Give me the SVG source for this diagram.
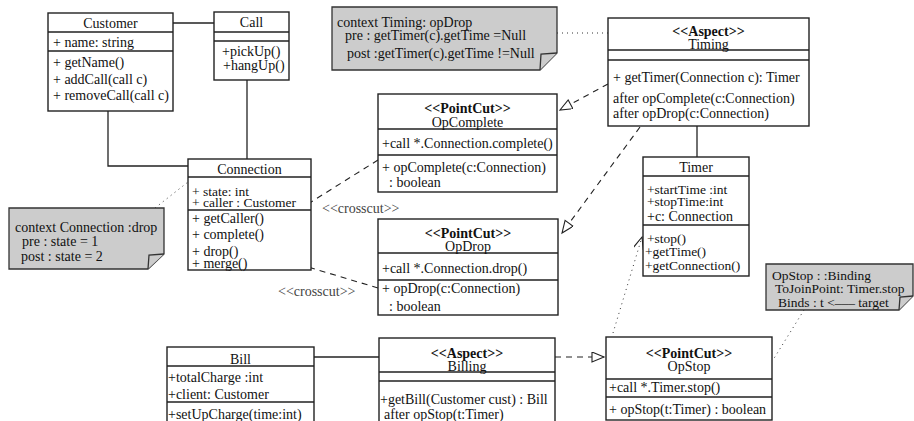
<svg xmlns="http://www.w3.org/2000/svg" width="914" height="421" viewBox="0 0 914 421">
<style>
text{font-family:"Liberation Serif","Times New Roman",serif;font-size:14px;fill:#111}
.b{font-weight:bold}
.c{text-anchor:middle}
.s{font-size:13.5px}
.box{fill:#fff;stroke:#222;stroke-width:1.4}
.ln{stroke:#222;stroke-width:1.3;fill:none}
.note{fill:#cccccc;stroke:#333;stroke-width:1.3}
.assoc{stroke:#222;stroke-width:1.3;fill:none}
.dash{stroke:#222;stroke-width:1.1;fill:none;stroke-dasharray:6,5}
.dot{stroke:#333;stroke-width:1;fill:none;stroke-dasharray:1,4}
.cc{font-size:14px;fill:#444}
</style>
<defs>
<marker id="stick" markerUnits="userSpaceOnUse" markerWidth="14" markerHeight="12" refX="13" refY="5" orient="auto">
<path d="M1,0 L13,5 L1,10" fill="none" stroke="#222" stroke-width="1.1"/>
</marker>
<marker id="tri" markerUnits="userSpaceOnUse" markerWidth="15" markerHeight="12" refX="13" refY="5" orient="auto">
<path d="M1,0 L13,5 L1,10 Z" fill="#fff" stroke="#222" stroke-width="1.1"/>
</marker>
</defs>

<g id="connectors">
<path class="assoc" d="M173,23 H214"/>
<path class="assoc" d="M108,111 V166 H188"/>
<path class="assoc" d="M247,80 V159"/>
<path class="assoc" d="M697,126 V157"/>
<path class="assoc" d="M314,357 H379"/>
<path class="dot" d="M557,33 H608"/>
<path class="dot" d="M155,208 L188,182"/>
<path class="dot" d="M804,310 L773,360"/>
<path class="dash" d="M378,160 L268,229" marker-end="url(#stick)"/>
<path class="dash" d="M378,288 L245,248" marker-end="url(#stick)"/>
<path class="dash" d="M608,84 L560,110" marker-end="url(#tri)"/>
<path class="dash" d="M640,127 L562,233" marker-end="url(#tri)"/>
<path class="dash" d="M555,357 L604,357" marker-end="url(#tri)"/>
<path class="dot" d="M613,333 L642,237" marker-end="url(#stick)"/>
<text class="cc" x="322" y="213">&lt;&lt;crosscut&gt;&gt;</text>
<text class="cc" x="278" y="296">&lt;&lt;crosscut&gt;&gt;</text>
</g>

<g id="customer">
<rect class="box" x="48" y="13" width="125" height="98"/>
<path class="ln" d="M48,32 H173 M48,51 H173"/>
<text class="c" x="110.5" y="28">Customer</text>
<text x="53" y="47">+ name: string</text>
<text x="53" y="67">+ getName()</text>
<text x="53" y="84">+ addCall(call c)</text>
<text x="53" y="100">+ removeCall(call c)</text>
</g>

<g id="call">
<rect class="box" x="214" y="12" width="75" height="68"/>
<path class="ln" d="M214,32 H289 M214,41 H289"/>
<text class="c" x="251.5" y="27">Call</text>
<text x="222" y="56">+pickUp()</text>
<text x="223" y="70">+hangUp()</text>
</g>

<g id="connection">
<rect class="box" x="188" y="159" width="123" height="111"/>
<path class="ln" d="M188,177 H311 M188,210 H311"/>
<text class="c" x="249.5" y="174">Connection</text>
<text class="s" x="192" y="196">+ state: int</text>
<text class="s" x="192" y="207">+ caller : Customer</text>
<text x="192" y="223">+ getCaller()</text>
<text x="192" y="239">+ complete()</text>
<text x="192" y="256">+ drop()</text>
<text x="192" y="268">+ merge()</text>
</g>

<g id="note-connection">
<path class="note" d="M9,208 H164 V254 L148,269 H9 Z"/>
<path class="note" d="M148,269 L149,255 L164,254"/>
<text x="15" y="232">context Connection :drop</text>
<text x="22" y="246">pre : state = 1</text>
<text x="21" y="261">post : state = 2</text>
</g>

<g id="note-timing">
<path class="note" d="M332,7 H557 V53 L540,70 H332 Z"/>
<path class="note" d="M540,70 L541,54 L557,53"/>
<text x="337" y="27">context Timing: opDrop</text>
<text x="345" y="40">pre : getTimer(c).getTime =Null</text>
<text x="347" y="58">post :getTimer(c).getTime !=Null</text>
</g>

<g id="timing">
<rect class="box" x="608" y="18" width="201" height="108"/>
<path class="ln" d="M608,50 H809 M608,60 H809"/>
<text class="c b" x="708.5" y="36">&lt;&lt;Aspect&gt;&gt;</text>
<text class="c" x="708.5" y="49">Timing</text>
<text x="613" y="82">+ getTimer(Connection c):  Timer</text>
<text x="613" y="103">after opComplete(c:Connection)</text>
<text x="613" y="118">after opDrop(c:Connection)</text>
</g>

<g id="opcomplete">
<rect class="box" x="378" y="94" width="179" height="98"/>
<path class="ln" d="M378,129 H557 M378,155 H557"/>
<text class="c b" x="467.5" y="113">&lt;&lt;PointCut&gt;&gt;</text>
<text class="c" x="467.5" y="127">OpComplete</text>
<text x="382" y="148">+call *.Connection.complete()</text>
<text x="382" y="172">+ opComplete(c:Connection)</text>
<text x="389" y="187">: boolean</text>
</g>

<g id="opdrop">
<rect class="box" x="378" y="219" width="180" height="96"/>
<path class="ln" d="M378,253 H558 M378,280 H558"/>
<text class="c b" x="468" y="238">&lt;&lt;PointCut&gt;&gt;</text>
<text class="c" x="468" y="251">OpDrop</text>
<text x="382" y="273">+call *.Connection.drop()</text>
<text x="382" y="293">+ opDrop(c:Connection)</text>
<text x="389" y="311">: boolean</text>
</g>

<g id="timer">
<rect class="box" x="643" y="157" width="106" height="119"/>
<path class="ln" d="M643,176 H749 M643,225 H749"/>
<text class="c" x="696" y="172">Timer</text>
<text class="s" x="647" y="194">+startTime :int</text>
<text class="s" x="647" y="206">+stopTime:int</text>
<text x="647" y="221">+c: Connection</text>
<text class="s" x="647" y="243">+stop()</text>
<text class="s" x="645" y="256">+getTime()</text>
<text class="s" x="645" y="270">+getConnection()</text>
</g>

<g id="note-binding">
<path class="note" d="M766,264 H913 V296 L899,310 H766 Z"/>
<path class="note" d="M899,310 L900,297 L913,296"/>
<text class="s" x="772" y="280">OpStop : :Binding</text>
<text class="s" x="775" y="293">ToJoinPoint: Timer.stop</text>
<text class="s" x="778" y="307">Binds : t &lt;–––  target</text>
</g>

<g id="bill">
<rect class="box" x="167" y="347" width="147" height="80"/>
<path class="ln" d="M167,366 H314 M167,402 H314"/>
<text class="c" x="240.5" y="364">Bill</text>
<text x="168" y="382">+totalCharge :int</text>
<text x="168" y="399">+client: Customer</text>
<text x="168" y="419">+setUpCharge(time:int)</text>
</g>

<g id="billing">
<rect class="box" x="379" y="338" width="176" height="90"/>
<path class="ln" d="M379,372 H555 M379,381 H555"/>
<text class="c b" x="467" y="358">&lt;&lt;Aspect&gt;&gt;</text>
<text class="c" x="467" y="371">Billing</text>
<text x="380" y="404">+getBill(Customer cust) : Bill</text>
<text x="384" y="419">after opStop(t:Timer)</text>
</g>

<g id="opstop">
<rect class="box" x="606" y="337" width="166" height="83"/>
<path class="ln" d="M606,379 H772 M606,397 H772"/>
<text class="c b" x="689" y="358">&lt;&lt;PointCut&gt;&gt;</text>
<text class="c" x="689" y="371">OpStop</text>
<text x="609" y="392">+call *.Timer.stop()</text>
<text x="609" y="414">+ opStop(t:Timer)  : boolean</text>
</g>
</svg>
